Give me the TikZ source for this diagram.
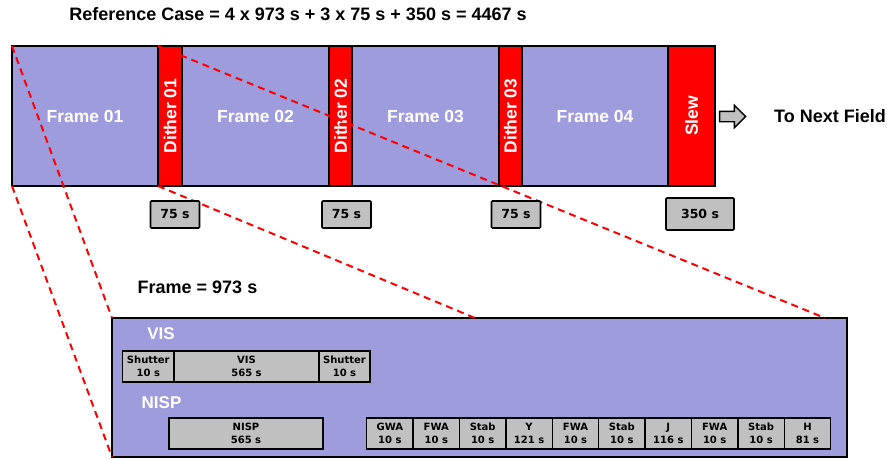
\documentclass[tikz,border=0pt]{standalone}
\usepackage{fontspec}
\setmainfont{Liberation Sans}
\newfontfamily\verd{DejaVu Sans}
\usetikzlibrary{shapes.arrows}
\definecolor{lav}{RGB}{158,156,221}
\definecolor{boxgray}{RGB}{192,192,192}
\definecolor{zred}{RGB}{255,0,0}

\begin{document}
\begin{tikzpicture}[x=1pt, y=-1pt,
  frm/.style={draw, line width=1.6pt, fill=lav, text=white, inner sep=0pt, outer sep=0pt,
              font=\bfseries\fontsize{17.5}{19}\selectfont, minimum height=140pt},
  dth/.style={frm, fill=zred, rotate=90, minimum width=140pt},
  lbl/.style={font=\bfseries\fontsize{18}{20}\selectfont},
  tbox/.style={draw, line width=1.6pt, fill=boxgray, rounded corners=1pt, inner sep=0pt,
               font=\verd\bfseries\fontsize{12.5}{14}\selectfont, minimum width=49pt, minimum height=27pt},
  sbox/.style={draw, line width=1.4pt, fill=boxgray, inner sep=0pt, outer sep=0pt, align=center,
               font=\verd\bfseries\fontsize{10}{12.6}\selectfont, minimum height=31pt},
  zoomln/.style={draw=zred, line width=2pt, dash pattern=on 7pt off 5pt},
  nxtarr/.style={single arrow, draw, line width=1.4pt, fill=boxgray, inner sep=4.5pt,
                 minimum height=26pt, single arrow head extend=6pt}]
\useasboundingbox (0,0) rectangle (887,459);

% title
\node[lbl] (ttl) at (298,14) {Reference Case = 4 x 973 s + 3 x 75 s + 350 s = 4467 s};

% observing sequence
\node[frm, minimum width=146pt] (f1) at (85,116) {Frame 01};
\node[dth, minimum height=24pt] (d1) at (170,116) {Dither 01};
\node[frm, minimum width=147pt] (f2) at (255.5,116) {Frame 02};
\node[dth, minimum height=23pt] (d2) at (340.5,116) {Dither 02};
\node[frm, minimum width=147pt] (f3) at (425.5,116) {Frame 03};
\node[dth, minimum height=23pt] (d3) at (510.5,116) {Dither 03};
\node[frm, minimum width=146pt] (f4) at (595,116) {Frame 04};
\node[dth, minimum height=47pt] (slw) at (691.5,116) {Slew};
\node[nxtarr] (arr) at (730,116.5) {};
\node[lbl] (nxt) at (830,116) {To Next Field};

% one frame
\node[lbl] (frmlbl) at (197.5,287) {Frame = 973 s};
\node[draw, line width=1.6pt, fill=lav, minimum width=735pt, minimum height=139pt,
      inner sep=0pt, outer sep=0pt] (fr) at (479.5,387.5) {};
\coordinate (zm) at (475,318);
\coordinate (zr) at (825,318);

\draw[zoomln] (f1.north west) -- (fr.north west);
\draw[zoomln] (f1.south west) -- (fr.south west);
\draw[zoomln] (f1.north east) -- (zr);
\draw[zoomln] (f1.south east) -- (zm);

% durations
\node[tbox] (t1) at (175,214.5) {75 s};
\node[tbox] (t2) at (346.5,214.5) {75 s};
\node[tbox] (t3) at (516,214.5) {75 s};
\node[tbox, minimum width=68pt, minimum height=32pt] (t4) at (700,214) {350 s};

% VIS
\node[lbl, font=\bfseries\fontsize{17}{19}\selectfont, text=white] (vis) at (161,334) {VIS};
\node[sbox, minimum width=51.3pt] (sh1) at (148.3,366.5) {Shutter\\10 s};
\node[sbox, minimum width=145pt] (vexp) at (246.5,366.5) {VIS\\565 s};
\node[sbox, minimum width=51pt] (sh2) at (344.5,366.5) {Shutter\\10 s};

% NISP
\node[lbl, font=\bfseries\fontsize{17}{19}\selectfont, text=white] (nisp) at (161.5,403) {NISP};
\node[sbox, minimum width=154pt] (nexp) at (246,433.5) {NISP\\565 s};
\node[sbox, minimum width=46.4pt] (n1) at (389.9,433.5) {GWA\\10 s};
\node[sbox, minimum width=46.4pt] (n2) at (436.3,433.5) {FWA\\10 s};
\node[sbox, minimum width=46.4pt] (n3) at (482.7,433.5) {Stab\\10 s};
\node[sbox, minimum width=46.4pt] (n4) at (529.1,433.5) {Y\\121 s};
\node[sbox, minimum width=46.4pt] (n5) at (575.5,433.5) {FWA\\10 s};
\node[sbox, minimum width=46.4pt] (n6) at (621.9,433.5) {Stab\\10 s};
\node[sbox, minimum width=46.4pt] (n7) at (668.3,433.5) {J\\116 s};
\node[sbox, minimum width=46.4pt] (n8) at (714.7,433.5) {FWA\\10 s};
\node[sbox, minimum width=46.4pt] (n9) at (761.1,433.5) {Stab\\10 s};
\node[sbox, minimum width=46.4pt] (n10) at (807.5,433.5) {H\\81 s};
\end{tikzpicture}
\end{document}
